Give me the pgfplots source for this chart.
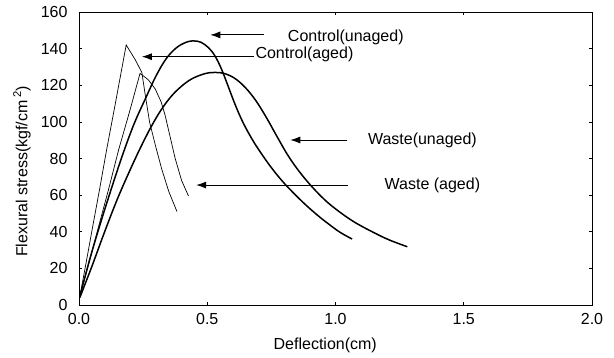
\documentclass[border=0pt]{standalone}
\usepackage{pgfplots}
\pgfplotsset{compat=1.18}
\usepackage{fontspec}
\setmainfont{Liberation Sans}
\usetikzlibrary{arrows.meta}
\newcommand{\lbl}{\fontsize{16bp}{19bp}\selectfont}
\begin{document}
\begin{tikzpicture}
\begin{axis}[
  scale only axis, width=513bp, height=293bp,
  xmin=0, xmax=2, ymin=0, ymax=160,
  xtick={0,0.5,1,1.5,2}, ytick={0,20,40,60,80,100,120,140,160},
  tick align=inside, major tick length=3bp,
  tick style={black, line width=0.6bp},
  axis line style={line width=0.8bp},
  /pgf/number format/assume math mode=true,
  tick label style={font=\lbl},
  x tick label style={/pgf/number format/fixed,/pgf/number format/fixed zerofill,/pgf/number format/precision=1, yshift=-5bp},
  y tick label style={xshift=-8bp},
  xlabel={Deflection(cm)},
  ylabel={Flexural stress(kgf/cm\,\textsuperscript{2})},
  label style={font=\lbl},
  x label style={at={(axis description cs:0.48,-0.1365)}, anchor=center},
  y label style={at={(axis description cs:-0.111,0.456)}, anchor=center, rotate=0},
  clip=false,
]
% Control(aged) - thin
\addplot[black, line width=0.7bp, sharp plot] coordinates {
(0.003,4.5) (0.025,21) (0.051,41) (0.08,63) (0.108,85) (0.137,106.5) (0.184,142)
(0.219,134) (0.245,127) (0.258,115) (0.275,100) (0.30,86) (0.323,74) (0.35,62) (0.382,51)};
% Waste(aged) - thin
\addplot[black, line width=0.7bp, sharp plot] coordinates {
(0.003,5) (0.035,21) (0.073,41) (0.115,63) (0.155,85) (0.198,106) (0.238,126.5)
(0.27,123) (0.297,118) (0.32,111) (0.335,104) (0.355,92) (0.375,80) (0.40,68) (0.427,59.5)};
% Control(unaged) - thick
\addplot[black, line width=1.5bp, smooth, tension=0.6] coordinates {
(0.003,4.5) (0.04,24) (0.08,43) (0.125,63) (0.17,82) (0.215,99) (0.26,113) (0.30,125)
(0.34,134.5) (0.38,140.5) (0.42,143.6) (0.447,144.2) (0.475,143.5) (0.505,140.5)
(0.53,136) (0.555,129) (0.58,120) (0.61,109) (0.64,99.5) (0.675,90.5) (0.707,83.5)
(0.75,75) (0.80,66.5) (0.87,56.5) (0.93,49) (0.98,43.5) (1.02,39.5) (1.065,36)};
% Waste(unaged) - thick
\addplot[black, line width=1.5bp, smooth, tension=0.6] coordinates {
(0.003,4) (0.05,21) (0.10,40) (0.15,58) (0.20,74) (0.24,86) (0.28,97) (0.32,106.5)
(0.36,114) (0.40,119.5) (0.44,123.5) (0.49,126.3) (0.53,127) (0.57,126.3) (0.61,123.5)
(0.65,118.5) (0.69,111.5) (0.73,102.5) (0.77,92.5) (0.811,82.5) (0.85,74.5) (0.896,66.5)
(0.95,58.5) (1.0,52.5) (1.071,45.5) (1.15,39.5) (1.21,35.5) (1.28,31.8)};
% annotations
\draw[-{Latex[length=10bp,width=7bp]}, line width=0.8bp] (axis cs:0.723,147.5) -- (axis cs:0.512,147.5);
\draw[-{Latex[length=10bp,width=7bp]}, line width=0.8bp] (axis cs:0.681,135.6) -- (axis cs:0.245,135.6);
\draw[-{Latex[length=10bp,width=7bp]}, line width=0.8bp] (axis cs:1.046,90.1) -- (axis cs:0.824,90.1);
\draw[-{Latex[length=10bp,width=7bp]}, line width=0.8bp] (axis cs:1.047,65.5) -- (axis cs:0.457,65.5);
\node[anchor=west, inner sep=0pt, font=\lbl] at (axis cs:0.814,146.2) {Control(unaged)};
\node[anchor=west, inner sep=0pt, font=\lbl] at (axis cs:0.6875,136.9) {Control(aged)};
\node[anchor=west, inner sep=0pt, font=\lbl] at (axis cs:1.126,90.1) {Waste(unaged)};
\node[anchor=west, inner sep=0pt, font=\lbl] at (axis cs:1.191,65.5) {Waste (aged)};
\coordinate (ll) at (rel axis cs:0,0);
\coordinate (ur) at (rel axis cs:1,1);
\end{axis}
\pgfresetboundingbox
\path ([xshift=-79bp,yshift=-53bp]ll) rectangle ([xshift=22bp,yshift=12bp]ur);
\end{tikzpicture}
\end{document}
